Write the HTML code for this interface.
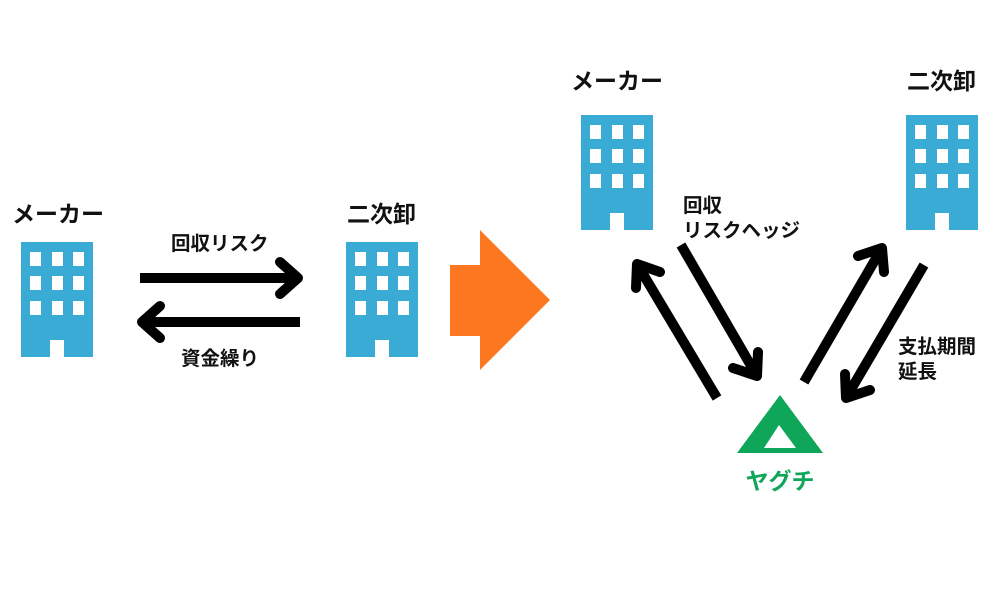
<!DOCTYPE html>
<html><head><meta charset="utf-8"><style>
html,body{margin:0;padding:0;background:#fff}
svg{display:block}
text{font-family:"Liberation Sans","Noto Sans CJK JP",sans-serif;font-weight:bold}
</style></head><body>
<svg width="1000" height="600" viewBox="0 0 1000 600" xmlns="http://www.w3.org/2000/svg">
<defs>
<g id="b">
<rect x="0" y="0" width="72" height="115" fill="#3aabd5"/>
<g fill="#fff">
<rect x="9" y="10" width="11" height="14"/><rect x="31" y="10" width="11" height="14"/><rect x="52" y="10" width="11" height="14"/>
<rect x="9" y="34" width="11" height="14"/><rect x="31" y="34" width="11" height="14"/><rect x="52" y="34" width="11" height="14"/>
<rect x="9" y="59" width="11" height="14"/><rect x="31" y="59" width="11" height="14"/><rect x="52" y="59" width="11" height="14"/>
<rect x="29" y="98" width="14" height="17"/>
</g>
</g>
</defs>
<use href="#b" x="21" y="242"/>
<use href="#b" x="346" y="242"/>
<use href="#b" x="581" y="115"/>
<use href="#b" x="906" y="115"/>
<g font-size="23" fill="#111">
<text x="12" y="222">メーカー</text>
<text x="347" y="222">二次卸</text>
<text x="571" y="89">メーカー</text>
<text x="907" y="89">二次卸</text>
</g>
<g font-size="19.5" fill="#111">
<text x="171" y="250">回収リスク</text>
<text x="181" y="365">資金繰り</text>
<text x="683" y="212">回収</text>
<text x="683" y="237">リスクヘッジ</text>
<text x="898" y="353">支払期間</text>
<text x="898" y="378">延長</text>
</g>
<g stroke="#000" stroke-width="10" fill="none" stroke-linecap="round" stroke-linejoin="round">
<line x1="140" y1="278" x2="298" y2="278" stroke-linecap="butt"/>
<polyline points="280,262 298,278 280,294"/>
<line x1="142" y1="322" x2="300" y2="322" stroke-linecap="butt"/>
<polyline points="160,306 142,322 160,338"/>
<line x1="717" y1="398" x2="637" y2="264" stroke-linecap="butt"/>
<polyline points="636,288 637,264 660,272"/>
<line x1="681" y1="245" x2="757" y2="376" stroke-linecap="butt"/>
<polyline points="733,368 757,376 758,352"/>
<line x1="804" y1="382" x2="882" y2="248" stroke-linecap="butt"/>
<polyline points="858,256 882,248 884,272"/>
<line x1="924" y1="265" x2="846" y2="398" stroke-linecap="butt"/>
<polyline points="845,374 846,398 870,390"/>
</g>
<polygon points="450,265 480,265 480,230 550,300 480,370 480,336 450,336" fill="#fd7720"/>
<polygon points="780,395 823,453 737,453" fill="#0fa65a"/>
<polygon points="779,425 796,448 764,448" fill="#fff"/>
<text x="780" y="489" font-size="23" fill="#0fa65a" text-anchor="middle">ヤグチ</text>
</svg>
</body></html>
